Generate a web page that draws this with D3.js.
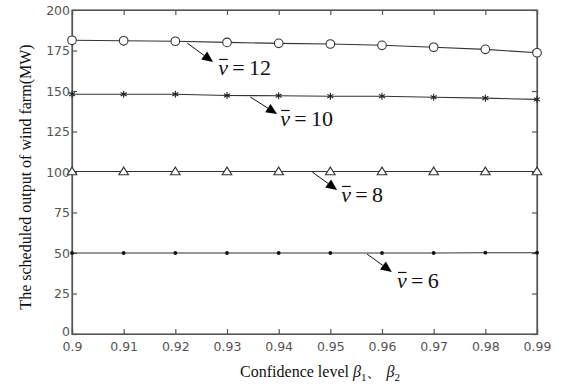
<!DOCTYPE html>
<html><head><meta charset="utf-8">
<script src="https://cdn.jsdelivr.net/npm/d3@7"></script>
<style>
body{margin:0;background:#fff;}
svg{display:block;}
</style></head>
<body>
<svg id="chart" width="566" height="387"></svg>
<script>
const confidence = [0.90,0.91,0.92,0.93,0.94,0.95,0.96,0.97,0.98,0.99];
const v12 = [181.3,181.0,180.7,180.0,179.4,179.0,178.2,177.0,175.7,173.6];
const v10 = [148.0,148.0,148.0,147.2,147.1,146.8,146.8,146.1,145.6,144.8];
const v8  = [100.3,100.3,100.3,100.3,100.3,100.3,100.3,100.3,100.3,100.3];
const v6  = [50.0,50.0,50.0,50.0,50.0,50.0,50.0,50.0,50.2,50.2];
const xTicks = [0.90,0.91,0.92,0.93,0.94,0.95,0.96,0.97,0.98,0.99];
const xTickLabels = ["0.9","0.91","0.92","0.93","0.94","0.95","0.96","0.97","0.98","0.99"];
const yTicks = [0,25,50,75,100,125,150,175,200];
// annotation: label number, arrow start [x,y], arrow tip [x,y], label anchor [x,y] (data units)
const annotations = [
  {n:"12", from:[0.9223,179.6], to:[0.9273,167.9], at:[0.9283,159.9]},
  {n:"10", from:[0.9345,146.3], to:[0.9397,135.8], at:[0.9403,128.4]},
  {n:"8",  from:[0.9465,100.0], to:[0.9513,88.9],  at:[0.9521,81.5]},
  {n:"6",  from:[0.9571,49.4],  to:[0.9619,38.3],  at:[0.9629,28.4]}
];

const svg = d3.select("#chart");
const m = {l:72, r:537, t:10, b:334};
const x = d3.scaleLinear().domain([0.9,0.99]).range([m.l,m.r]);
const y = d3.scaleLinear().domain([0,200]).range([m.b,m.t]);
const axisColor = "#555";
const tickFont = '"DejaVu Sans", Verdana, sans-serif';
const serif = '"Liberation Serif", "Times New Roman", serif';

// frame
svg.append("rect").attr("x",m.l).attr("y",m.t).attr("width",m.r-m.l).attr("height",m.b-m.t)
  .attr("fill","none").attr("stroke",axisColor).attr("stroke-width",1.2);

// axes with inward ticks
const xAxis = d3.axisBottom(x).tickValues(xTicks).tickSize(-5).tickPadding(10)
  .tickFormat((d,i)=>xTickLabels[i]);
const gx = svg.append("g").attr("transform",`translate(0,${m.b})`).call(xAxis);
const yAxis = d3.axisLeft(y).tickValues(yTicks).tickSize(-5).tickPadding(2);
const gy = svg.append("g").attr("transform",`translate(${m.l},0)`).call(yAxis);
const gxt = svg.append("g").attr("transform",`translate(0,${m.t})`).call(d3.axisTop(x).tickValues(xTicks).tickSize(-5).tickFormat(""));
const gyr = svg.append("g").attr("transform",`translate(${m.r},0)`).call(d3.axisRight(y).tickValues(yTicks).tickSize(-5).tickFormat(""));
[gx,gy,gxt,gyr].forEach(g=>{
  g.select(".domain").attr("stroke",axisColor).attr("stroke-width",1.2);
  g.selectAll(".tick line").attr("stroke",axisColor).attr("stroke-width",1.2);
  g.selectAll(".tick text").attr("fill","#555").style("font-family",tickFont).style("font-size","12.5px");
});
gx.selectAll(".tick text").attr("dy","0.55em");
gy.selectAll(".tick text").attr("dy","0.34em");
gy.selectAll(".tick").filter(d=>d===0).select("text").attr("dy","0.1em");

// series
const series = [
  {vals:v12, marker:"circle"},
  {vals:v10, marker:"star"},
  {vals:v8,  marker:"triangle"},
  {vals:v6,  marker:"dot"}
];
const line = d3.line().x((d,i)=>x(confidence[i])).y(d=>y(d));
const lineColor = "#333";
series.forEach(s=>{
  svg.append("path").datum(s.vals).attr("d",line).attr("fill","none")
    .attr("stroke",lineColor).attr("stroke-width",1.1);
  const g = svg.append("g");
  s.vals.forEach((v,i)=>{
    const cx = x(confidence[i]), cy = y(v);
    if(s.marker==="circle"){
      g.append("circle").attr("cx",cx).attr("cy",cy).attr("r",4.3)
        .attr("fill","#fff").attr("stroke",lineColor).attr("stroke-width",1.1);
    } else if(s.marker==="star"){
      g.append("path").attr("transform",`translate(${cx},${cy})`)
        .attr("d","M0,-3.5V3.5M-3,-1.8L3,1.8M-3,1.8L3,-1.8")
        .attr("stroke","#222").attr("stroke-width",1.1).attr("fill","none");
    } else if(s.marker==="triangle"){
      g.append("path").attr("transform",`translate(${cx},${cy})`)
        .attr("d","M0,-4.4L4.8,3.2L-4.8,3.2Z")
        .attr("fill","#fff").attr("stroke",lineColor).attr("stroke-width",1.1);
    } else {
      g.append("circle").attr("cx",cx).attr("cy",cy).attr("r",1.9).attr("fill","#111");
    }
  });
});

// annotations
annotations.forEach(a=>{
  const x1=x(a.from[0]), y1=y(a.from[1]), x2=x(a.to[0]), y2=y(a.to[1]);
  const ang = Math.atan2(y2-y1,x2-x1);
  const hl=11, hw=5;
  const bx = x2-hl*Math.cos(ang), by = y2-hl*Math.sin(ang);
  svg.append("line").attr("x1",x1).attr("y1",y1).attr("x2",bx).attr("y2",by)
    .attr("stroke","#111").attr("stroke-width",1);
  const px = -Math.sin(ang), py = Math.cos(ang);
  svg.append("path").attr("d",`M${x2},${y2}L${bx+px*hw},${by+py*hw}L${bx-px*hw},${by-py*hw}Z`)
    .attr("fill","#000");
  const tx = x(a.at[0]), ty = y(a.at[1]);
  const vt = svg.append("text").attr("x",tx).attr("y",ty)
    .style("font-family",serif).style("font-size","22px").style("font-style","italic")
    .attr("fill","#111").text("v");
  const bb = vt.node().getBBox();
  svg.append("line").attr("x1",bb.x+1).attr("x2",bb.x+bb.width-0.5)
    .attr("y1",ty-15.5).attr("y2",ty-15.5).attr("stroke","#111").attr("stroke-width",1.2);
  svg.append("text").attr("x",bb.x+bb.width+4).attr("y",ty)
    .style("font-family",serif).style("font-size","22px")
    .attr("fill","#111").text("=\u2009" + a.n);
});

// axis labels
const xl = svg.append("text").attr("x",320).attr("y",377).attr("text-anchor","middle")
  .style("font-family",serif).style("font-size","16px").attr("fill","#111");
xl.append("tspan").text("Confidence level ");
xl.append("tspan").style("font-style","italic").text("β");
xl.append("tspan").attr("dy",4).style("font-size","11px").text("1");
xl.append("tspan").attr("dy",-4).text("、 ");
xl.append("tspan").style("font-style","italic").text("β");
xl.append("tspan").attr("dy",4).style("font-size","11px").text("2");

svg.append("text").attr("transform","translate(31,177) rotate(-90)").attr("text-anchor","middle")
  .style("font-family",serif).style("font-size","16px").attr("fill","#111")
  .text("The scheduled output of wind farm(MW)");
</script>
</body></html>
